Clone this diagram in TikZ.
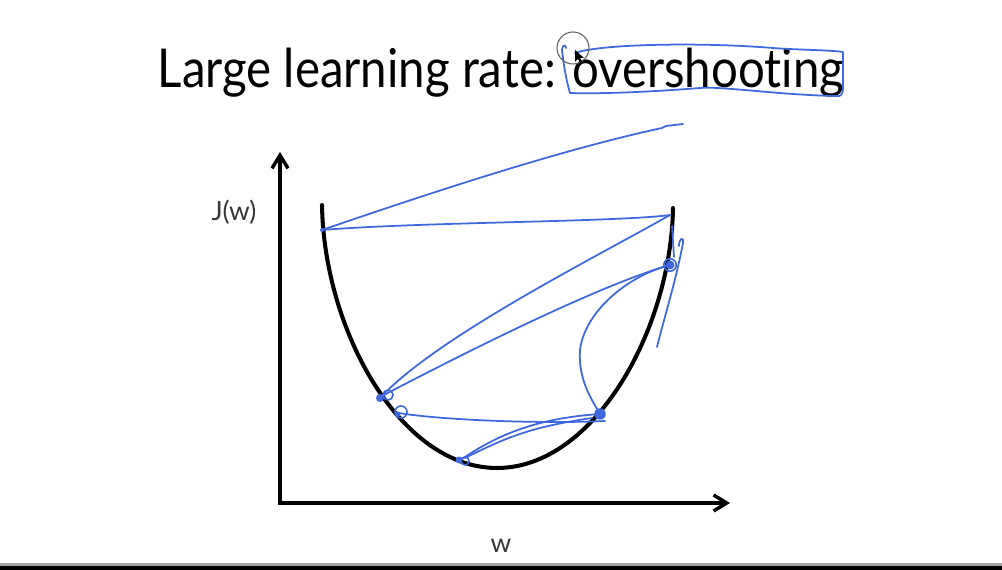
\documentclass[tikz,border=0pt]{standalone}
\usepackage{fontspec}
\setmainfont{Lato}[Ligatures=NoCommon]
\usetikzlibrary{arrows.meta}
\definecolor{ink}{RGB}{62,104,222}
\definecolor{labelgray}{RGB}{55,55,55}
\definecolor{cursorgray}{RGB}{95,95,95}

\begin{document}
\begin{tikzpicture}[x=0.02cm, y=-0.02cm,
    axis/.style={line width=2pt, line join=miter,
        {Straight Barb[length=2.6mm, width=3.2mm, line width=2pt]}-{Straight Barb[length=2.6mm, width=3.2mm, line width=2pt]}},
    bowl/.style={line width=2.3pt, line cap=round},
    pen/.style={ink, line width=1pt, line cap=round, line join=round},
    blob/.style={circle, fill=ink, inner sep=0pt},
    ring/.style={circle, draw=ink, line width=0.9pt, inner sep=0pt},
    title/.style={font=\fontsize{30.5}{36}\selectfont, text=black},
    lbl/.style={font=\fontsize{15}{18}\selectfont, text=labelgray}
]
    % page
    \fill[white] (0,0) rectangle (1002,570);
    \fill[black!35] (0,563) rectangle (1002,566);
    \fill[black] (0,566) rectangle (1002,570);

    % title and axis labels
    \node[title, anchor=base] (title) at (501,88) {\scalebox{0.885}[1]{Large learning rate: overshooting}};
    \node[lbl] (ylab) at (234,212) {J(w)};
    \node[lbl] (xlab) at (501,546) {w};

    % axes
    \coordinate (o) at (280,503);
    \coordinate (ytip) at (280,152);
    \coordinate (xtip) at (730,503);
    \draw[axis] (ytip) -- (o) -- (xtip);

    % cost curve
    \coordinate (ltop) at (322,205);
    \coordinate (bot) at (497,468);
    \coordinate (rtop) at (673,208);
    \draw[bowl] (ltop) .. controls (324,330) and (400,468) .. (bot)
                       .. controls (594,468) and (671,330) .. (rtop);

    % steps on the curve
    \coordinate (p0) at (322,230);
    \coordinate (p1) at (670,215);
    \coordinate (p2) at (382,396);
    \coordinate (p3) at (670,265);
    \coordinate (p4) at (399,413);
    \coordinate (p5) at (600,414);
    \coordinate (p6) at (462,459);
    \coordinate (far) at (683,124);

    \node[blob, minimum size=1.6mm] (d2) at (380,398) {};
    \node[ring, minimum size=2mm] (r2) at (388,395) {};
    \node[blob, minimum size=1mm] (d4) at (398,414) {};
    \node[ring, minimum size=2.4mm] (r4) at (401,412) {};
    \node[blob, minimum size=1.4mm] (d6) at (459,460) {};
    \node[ring, minimum size=1.6mm] (r6) at (465,461) {};
    \node[blob, minimum size=2.3mm] (d5) at (p5) {};
    \node[blob, minimum size=1.8mm] (d3) at (p3) {};
    \node[ring, minimum size=2.5mm] (r3) at (p3) {};
    \node[blob, minimum size=0.8mm] (d0) at (p0) {};

    % pen strokes
    \draw[pen] (p0) .. controls (430,193) and (560,150) .. (662,128) -- (666,126) -- (far);
    \draw[pen] (p0) .. controls (420,222) and (620,222) .. (p1);
    \draw[pen] (p1) .. controls (600,255) and (440,335) .. (p2);
    \draw[pen] (p3) .. controls (600,285) and (470,350) .. (p2);
    \draw[pen] (p3) .. controls (630,275) and (585,310) .. (580,350)
                    .. controls (578,380) and (592,400) .. (p5);
    \draw[pen] (672,226) -- (674,257);
    \draw[pen] (679,246) .. controls (679,238) and (684,236) .. (683,243)
                         .. controls (676,280) and (665,315) .. (657,347);
    \draw[pen] (p4) .. controls (440,420) and (540,424) .. (605,421);
    \draw[pen] (p6) .. controls (500,433) and (540,418) .. (p5);
    \draw[pen] (465,458) .. controls (505,438) and (530,427) .. (592,418);

    % box round the title word
    \draw[pen] (575,53) .. controls (600,44) and (700,42) .. (773,48)
        .. controls (800,50) and (830,50) .. (843,52) -- (843,88)
        .. controls (843,95) and (840,97) .. (836,96)
        .. controls (780,95) and (720,86) .. (700,88)
        .. controls (650,92) and (600,94) .. (570,93)
        .. controls (566,80) and (563,60) .. (562,50)
        .. controls (562,45) and (566,44) .. (566,48);

    % pointer
    \draw[cursorgray, line width=0.6pt] (573,48) circle [radius=16];
    \fill[black] (575,50) -- (575,62) -- (578,59) -- (581,64) -- (583,63) -- (580,58) -- (584,58) -- cycle;
\end{tikzpicture}
\end{document}
